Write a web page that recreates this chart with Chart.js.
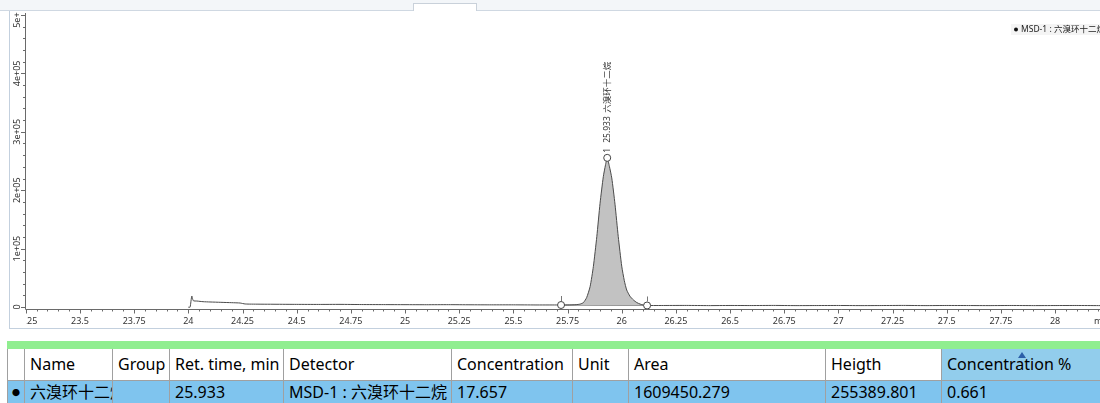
<!DOCTYPE html>
<html>
<head>
<meta charset="utf-8">
<script src="https://cdn.jsdelivr.net/npm/chart.js@4.4.1/dist/chart.umd.min.js"></script>
<style>
  body { margin: 0; width: 1100px; height: 403px; overflow: hidden; position: relative; background: #fff;
         font-family: "Noto Sans", "Noto Sans CJK SC", sans-serif; }
  #topbar { position: absolute; left: 0; top: 0; width: 1100px; height: 10px; background: #f3f6f9; border-bottom: 1px solid #cfd8e2; }
  #tab { position: absolute; left: 413px; top: 3px; width: 62px; height: 7px; background: #fff; border: 1px solid #c9d1da; border-bottom: none; }
  #panel { position: absolute; left: 9px; top: 11px; width: 1100px; height: 317px; border-left: 1px solid #c3d0de; border-bottom: 1px solid #c3d0de; }
  #chartWrap { position: absolute; left: 0; top: 0; width: 1100px; height: 331px; overflow: hidden; }
  #greenbar { position: absolute; left: 7px; top: 341px; width: 1100px; height: 8px; background: #90ee90; }
  .row { position: absolute; left: 7px; display: flex; white-space: nowrap; }
  .cell { box-sizing: border-box; overflow: hidden; padding-left: 5px; border-right: 1px solid #a0a0a0;
          border-bottom: 1px solid #a0a0a0; font-size: 16px; color: #000; }
  #head { top: 349px; height: 32px; }
  #head .cell { height: 32px; line-height: 31px; background: #fff; }
  #head .cell.sorted { background: #92cdec; position: relative; }
  #head .cell.first { border-left: 1px solid #a0a0a0; }
  #data { top: 381px; height: 24px; }
  #data .cell { height: 24px; line-height: 23px; background: #7fc4ee; }
  #data .cell.first { border-left: 1px solid #a0a0a0; padding-left: 4px; font-size: 8px; }
  .arrow { position: absolute; left: 76px; top: 3px; width: 0; height: 0; border-left: 4px solid transparent;
           border-right: 4px solid transparent; border-bottom: 6px solid #2c5fa8; }
</style>
</head>
<body>
<div id="topbar"></div>
<div id="tab"></div>
<div id="panel"></div>
<div id="chartWrap"><canvas id="chrom" width="1120" height="331" style="width:1120px;height:331px"></canvas></div>
<div id="greenbar"></div>
<div class="row" id="head"></div>
<div class="row" id="data"></div>
<script>
// chromatogram trace (retention time, min / intensity)
const retTimes = [
  24.0, 24.008, 24.016, 24.023, 24.04, 24.068, 24.1, 24.15, 24.2, 24.239, 24.262, 24.3,
  24.4, 24.5, 24.6, 24.7, 24.8, 24.9, 25.0, 25.1, 25.2, 25.3, 25.4, 25.5, 25.6, 25.7,
  25.72, 25.76, 25.79, 25.808, 25.823, 25.838, 25.854, 25.869, 25.885, 25.9, 25.915, 25.925,
  25.933, 25.943, 25.954, 25.969, 25.984, 26.0, 26.012, 26.023, 26.038, 26.054, 26.07, 26.085,
  26.1, 26.117, 26.2, 26.3, 26.4, 26.5, 26.6, 26.7, 26.8, 26.9, 27.0, 27.1, 27.2, 27.3,
  27.4, 27.5, 27.6, 27.7, 27.8, 27.9, 28.0, 28.1, 28.2, 28.3
];
const signal = [
  -300, -300, 18800, 10800, 10200, 9100, 8600, 8000, 7400, 6800, 5200, 4900,
  4700, 4500, 4400, 4500, 4200, 4100, 4000, 3900, 4000, 3800, 3700, 3700, 3500, 3500,
  3400, 3500, 4000, 5000, 7500, 16000, 34800, 69000, 120400, 177600, 223100, 243000,
  255389, 241000, 221000, 176000, 120400, 70000, 45000, 29100, 18500, 12000, 7500, 5000,
  3400, 2600, 2600, 2700, 2400, 2600, 2500, 2700, 2400, 2500, 2600, 2400, 2500, 2700,
  2400, 2600, 2500, 2400, 2600, 2400, 2500, 2600, 2400, 2500
];

// peak: start, apex, end
const markerTimes = [25.72, 25.933, 26.117];
const markerValues = [3400, 255389, 2600];
const peakNumber = '1';
const peakRetTime = '25.933';
const compoundName = '六溴环十二烷';
const detectorName = 'MSD-1';

// axis ticks
const xTickValues = [23.25, 23.5, 23.75, 24, 24.25, 24.5, 24.75, 25, 25.25, 25.5, 25.75,
  26, 26.25, 26.5, 26.75, 27, 27.25, 27.5, 27.75, 28];
const xTickLabels = ['23.25', '23.5', '23.75', '24', '24.25', '24.5', '24.75', '25', '25.25', '25.5', '25.75',
  '26', '26.25', '26.5', '26.75', '27', '27.25', '27.5', '27.75', '28'];
const yTickValues = [0, 100000, 200000, 300000, 400000, 500000];
const yTickLabels = ['0', '1e+05', '2e+05', '3e+05', '4e+05', '5e+05'];
const xAxisTitle = 'min';

// table
const tableHeaders = ['', 'Name', 'Group', 'Ret. time, min', 'Detector', 'Concentration', 'Unit', 'Area', 'Heigth', 'Concentration %'];
const tableRow = ['●', '六溴环十二烷', '', '25.933', 'MSD-1 : 六溴环十二烷', '17.657', '', '1609450.279', '255389.801', '0.661'];
const colWidths = [18, 88, 57, 114, 168, 121, 56, 197, 116, 200];

const trace = retTimes.map((t, i) => ({ x: t, y: signal[i] }));
const peakArea = trace.filter(p => p.x >= markerTimes[0] && p.x <= markerTimes[2]);
const markers = markerTimes.map((t, i) => ({ x: t, y: markerValues[i] }));
const baseline = [markers[0], markers[2]];

const font = '"Noto Sans", "Noto Sans CJK SC", sans-serif';

const chromPainter = {
  id: 'chromPainter',
  afterDraw(chart) {
    const { ctx, chartArea: a, scales: { x, y } } = chart;
    ctx.save();
    ctx.strokeStyle = '#6a6a6a';
    ctx.lineWidth = 1;
    ctx.beginPath();
    ctx.moveTo(a.left + 0.5, a.top);
    ctx.lineTo(a.left + 0.5, a.bottom + 0.5);
    ctx.lineTo(a.right, a.bottom + 0.5);
    // x ticks, 4 minor between majors
    const xStep = xTickValues[1] - xTickValues[0];
    xTickValues.concat([xTickValues[xTickValues.length - 1] + xStep]).forEach(v => {
      for (let k = 0; k < 5; k++) {
        const px = Math.round(x.getPixelForValue(v + k * xStep / 5)) + 0.5;
        if (px < a.left || px > a.right) continue;
        ctx.moveTo(px, a.bottom);
        ctx.lineTo(px, a.bottom + (k === 0 ? 4.5 : 2.5));
      }
    });
    // y ticks
    const yStep = yTickValues[1] - yTickValues[0];
    yTickValues.forEach(v => {
      for (let k = 0; k < 5; k++) {
        const py = Math.round(y.getPixelForValue(v + k * yStep / 5)) + 0.5;
        if (py < a.top || py > a.bottom) continue;
        ctx.moveTo(a.left, py);
        ctx.lineTo(a.left - (k === 0 ? 4 : 2), py);
      }
    });
    ctx.stroke();

    ctx.fillStyle = '#333';
    ctx.font = '9px ' + font;
    ctx.textBaseline = 'middle';
    // x labels (clipped at the y axis)
    ctx.save();
    ctx.beginPath();
    ctx.rect(a.left + 1, a.bottom, chart.width, 30);
    ctx.clip();
    ctx.textAlign = 'center';
    xTickValues.forEach((v, i) => ctx.fillText(xTickLabels[i], x.getPixelForValue(v), a.bottom + 12.5));
    ctx.textAlign = 'left';
    ctx.fillText(xAxisTitle, a.right - 20, a.bottom + 12.5);
    ctx.restore();
    // y labels rotated (clipped at the top frame)
    ctx.save();
    ctx.beginPath();
    ctx.rect(0, 12, a.left, chart.height);
    ctx.clip();
    ctx.textAlign = 'center';
    ctx.textBaseline = 'alphabetic';
    yTickValues.forEach((v, i) => {
      ctx.save();
      ctx.translate(a.left - 5, y.getPixelForValue(v));
      ctx.rotate(-Math.PI / 2);
      ctx.fillText(yTickLabels[i], 0, 0);
      ctx.restore();
    });
    ctx.restore();

    // peak boundary ticks
    ctx.beginPath();
    [0, 2].forEach(i => {
      const px = Math.round(x.getPixelForValue(markerTimes[i])) + 0.5;
      const py = y.getPixelForValue(markerValues[i]);
      ctx.moveTo(px, py - 9);
      ctx.lineTo(px, py - 4);
    });
    ctx.strokeStyle = '#777';
    ctx.stroke();

    // peak label, vertical
    ctx.font = '8.5px ' + font;
    ctx.save();
    ctx.translate(x.getPixelForValue(markerTimes[1]), y.getPixelForValue(markerValues[1]) - 5);
    ctx.rotate(-Math.PI / 2);
    ctx.textAlign = 'left';
    ctx.textBaseline = 'middle';
    ctx.fillStyle = '#333';
    ctx.fillText(peakNumber, 0, 0);
    ctx.fillText(peakRetTime, 10, 0);
    ctx.fillText(compoundName, 40, 0);
    ctx.restore();

    // legend, top right
    const lx = a.right - 103, ly = 29.5;
    ctx.fillStyle = '#f4f4f4';
    ctx.fillRect(lx, ly - 5.5, 110, 11);
    ctx.fillStyle = '#111';
    ctx.beginPath();
    ctx.arc(lx + 5, ly, 2, 0, Math.PI * 2);
    ctx.fill();
    ctx.fillStyle = '#222';
    ctx.textAlign = 'left';
    ctx.fillText(chart.data.datasets[1].label, lx + 10, ly);
    ctx.restore();
  }
};

new Chart(document.getElementById('chrom'), {
  type: 'scatter',
  data: {
    datasets: [
      { label: 'markers', data: markers, order: 0, pointRadius: 3.5, pointBackgroundColor: '#fff',
        pointBorderColor: '#444', pointBorderWidth: 1, showLine: false },
      { label: detectorName + ' : ' + compoundName, data: trace, order: 1, showLine: true, pointRadius: 0,
        borderColor: '#4a4a4a', borderWidth: 1, tension: 0.2, fill: false },
      { label: 'peak area', data: peakArea, order: 2, showLine: true, pointRadius: 0, borderWidth: 0,
        tension: 0.2, backgroundColor: '#c2c2c2', fill: 3 },
      { label: 'baseline', data: baseline, order: 3, showLine: true, pointRadius: 0,
        borderColor: '#666', borderWidth: 1, fill: false }
    ]
  },
  options: {
    responsive: false,
    animation: false,
    layout: { padding: { left: 25, top: 13, right: 6, bottom: 22 } },
    scales: {
      x: { type: 'linear', display: false, min: 23.2463, max: 28.2717 },
      y: { type: 'linear', display: false, min: -3424, max: 503400 }
    },
    plugins: { legend: { display: false }, tooltip: { enabled: false } }
  },
  plugins: [chromPainter]
});

// table rows
const head = document.getElementById('head');
const dataRow = document.getElementById('data');
tableHeaders.forEach((h, i) => {
  const c = document.createElement('div');
  c.className = 'cell' + (i === 0 ? ' first' : '') + (i === tableHeaders.length - 1 ? ' sorted' : '');
  c.style.width = colWidths[i] + 'px';
  c.textContent = h;
  if (i === tableHeaders.length - 1) {
    const ar = document.createElement('div');
    ar.className = 'arrow';
    c.appendChild(ar);
  }
  head.appendChild(c);
  const d = document.createElement('div');
  d.className = 'cell' + (i === 0 ? ' first' : '');
  d.style.width = colWidths[i] + 'px';
  d.textContent = tableRow[i];
  dataRow.appendChild(d);
});
</script>
</body>
</html>
